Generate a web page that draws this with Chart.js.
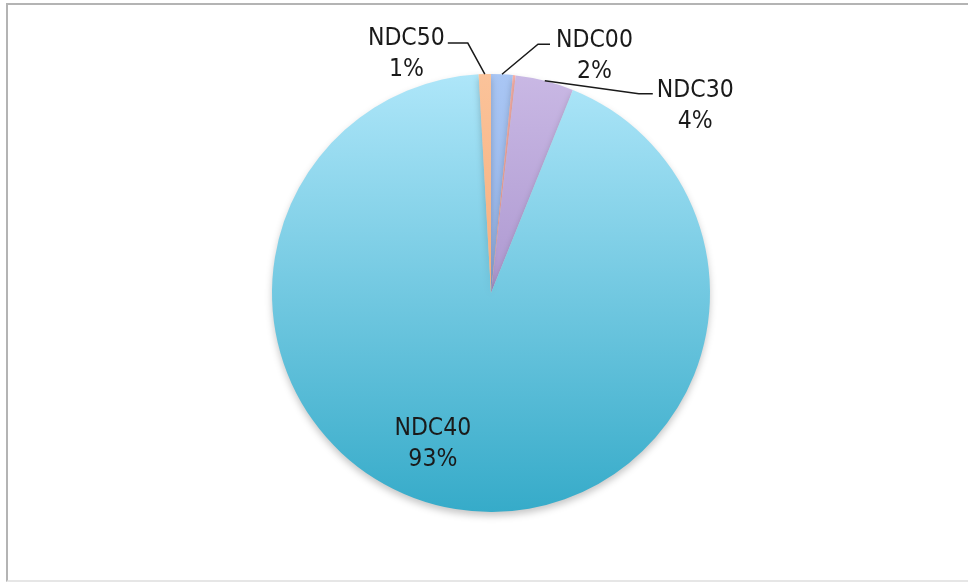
<!DOCTYPE html>
<html>
<head>
<meta charset="utf-8">
<script src="https://cdn.jsdelivr.net/npm/chart.js@4/dist/chart.umd.min.js"></script>
<style>
  html, body { margin: 0; padding: 0; background: #ffffff; overflow: hidden; }
  #wrap { position: relative; width: 968px; height: 582px; }
  #frame {
    position: absolute; left: 6px; top: 3px; width: 980px; height: 575px;
    border-left: 2px solid #b4b4b4; border-top: 2px solid #b4b4b4;
    border-bottom: 2px solid #e6e6e6; box-sizing: content-box; pointer-events: none;
  }
  canvas { position: absolute; left: 0; top: 0; }
</style>
</head>
<body>
<div id="wrap">
  <canvas id="chart" width="968" height="582"></canvas>
  <div id="frame"></div>
</div>
<script>
// Share of each NDC code (percent)
const categories = ['NDC00', 'NDC20', 'NDC30', 'NDC40', 'NDC50'];
const shares     = [1.6, 0.2, 4.3, 93.0, 0.9];
const showLabel  = [true, false, true, true, true];

// Top / bottom colour of each slice's vertical gradient
const topColors    = ['#a9c6f4', '#f7b0a8', '#c9b8e4', '#aee6f9', '#fbc39a'];
const bottomColors = ['#7f9fdc', '#e88a80', '#9279bd', '#36abc9', '#f29a5e'];

const total = shares.reduce((a, b) => a + b, 0);

function sliceFill(context) {
  const chart = context.chart;
  const area = chart.chartArea;
  if (!area) return topColors[context.dataIndex];
  const g = chart.ctx.createLinearGradient(0, area.top, 0, area.bottom);
  g.addColorStop(0, topColors[context.dataIndex]);
  g.addColorStop(1, bottomColors[context.dataIndex]);
  return g;
}

// Soft drop shadow under the pie
const pieShadow = {
  id: 'pieShadow',
  beforeDatasetsDraw(chart) {
    const ctx = chart.ctx;
    ctx.save();
    ctx.shadowColor = 'rgba(0,0,0,0.22)';
    ctx.shadowBlur = 7;
    ctx.shadowOffsetY = 4;
  },
  afterDatasetsDraw(chart) {
    chart.ctx.restore();
  }
};

// Data labels with leader lines for the narrow slices
const sliceLabels = {
  id: 'sliceLabels',
  afterDraw(chart) {
    const ctx = chart.ctx;
    const arcs = chart.getDatasetMeta(0).data;
    ctx.save();
    ctx.font = '24.5px "Liberation Sans Narrow", "DejaVu Sans Condensed", "Liberation Sans", sans-serif';
    ctx.fillStyle = '#1a1a1a';
    ctx.strokeStyle = '#1a1a1a';
    ctx.lineWidth = 1.5;
    ctx.textBaseline = 'middle';
    const lineGap = 31;

    arcs.forEach((arc, i) => {
      if (!showLabel[i]) return;
      const name = categories[i];
      const pct = Math.round(shares[i] / total * 100) + '%';
      const mid = (arc.startAngle + arc.endAngle) / 2;
      const ax = arc.x + Math.cos(mid) * arc.outerRadius;
      const ay = arc.y + Math.sin(mid) * arc.outerRadius;

      if (name === 'NDC40') {
        // inside the big slice
        const r = arc.outerRadius * 0.74;
        const a = Math.PI * 0.5 + 0.367;
        const cx = arc.x + Math.cos(a) * r;
        const cy = arc.y + Math.sin(a) * r;
        ctx.textAlign = 'center';
        ctx.fillText(name, cx, cy - lineGap / 2);
        ctx.fillText(pct, cx, cy + lineGap / 2);
        return;
      }

      let tx, elbow, textX, align, textDy;
      if (name === 'NDC50') {
        elbow = [ax - 17, ay - 31];
        tx = [ax - 37, ay - 31];
        textX = tx[0] - 3; align = 'right'; textDy = -4;
      } else if (name === 'NDC00') {
        elbow = [ax + 36, ay - 30];
        tx = [ax + 48, ay - 30];
        textX = tx[0] + 6; align = 'left'; textDy = -4;
      } else {
        elbow = [ax + 94, ay + 13];
        tx = [ax + 108, ay + 13];
        textX = tx[0] + 4; align = 'left'; textDy = -3;
      }
      ctx.beginPath();
      ctx.moveTo(ax, ay);
      ctx.lineTo(elbow[0], elbow[1]);
      ctx.lineTo(tx[0], tx[1]);
      ctx.stroke();

      ctx.textAlign = align;
      const nameW = ctx.measureText(name).width;
      ctx.fillText(name, textX, tx[1] + textDy);
      const centerX = align === 'left' ? textX + nameW / 2 : textX - nameW / 2;
      ctx.textAlign = 'center';
      ctx.fillText(pct, centerX, tx[1] + textDy + lineGap);
    });
    ctx.restore();
  }
};

new Chart(document.getElementById('chart'), {
  type: 'pie',
  data: {
    labels: categories,
    datasets: [{
      data: shares,
      backgroundColor: sliceFill,
      borderWidth: 0
    }]
  },
  options: {
    responsive: false,
    animation: false,
    rotation: 0,
    layout: { padding: { left: 272, right: 258, top: 74, bottom: 70 } },
    plugins: {
      legend: { display: false },
      tooltip: { enabled: false },
      title: { display: false }
    }
  },
  plugins: [pieShadow, sliceLabels]
});
</script>
</body>
</html>
